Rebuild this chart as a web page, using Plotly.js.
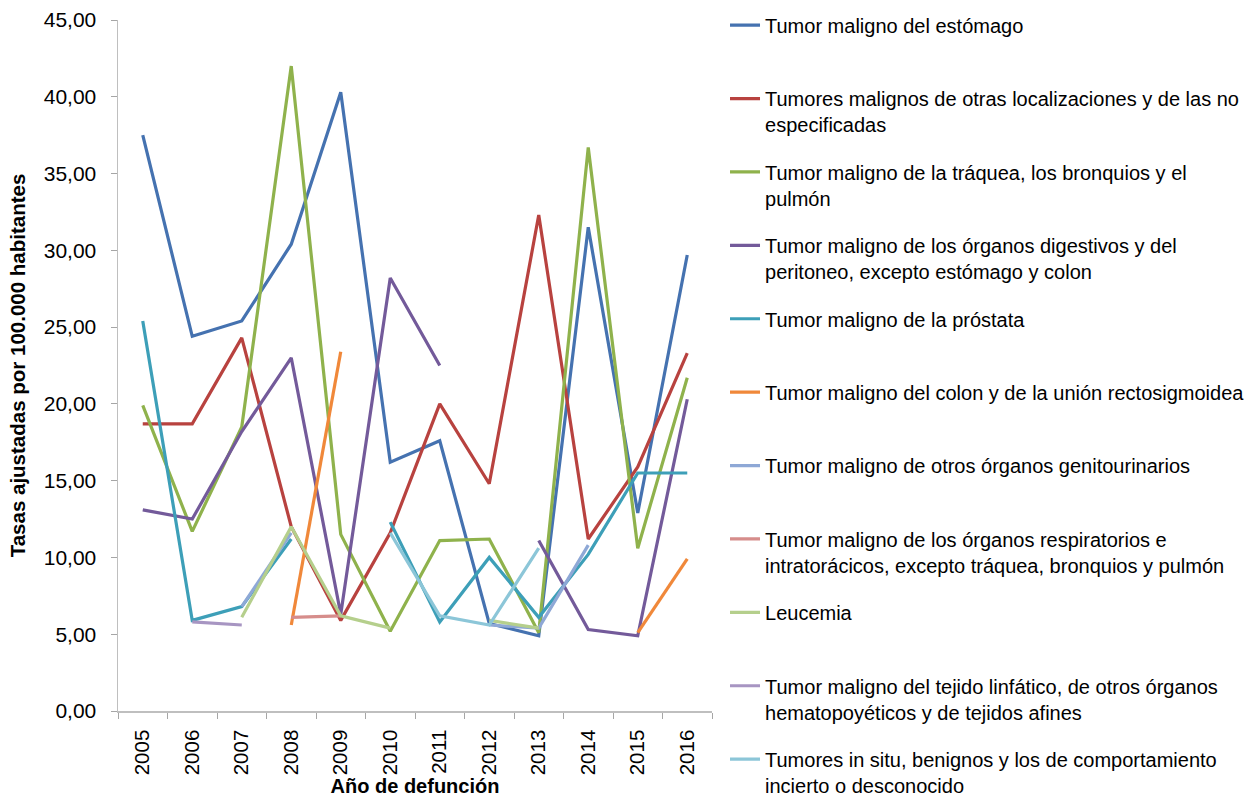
<!DOCTYPE html>
<html>
<head>
<meta charset="utf-8">
<script src="https://cdn.plot.ly/plotly-3.0.1.min.js"></script>
<style>html,body{margin:0;padding:0;background:#fff;}#chart{width:1251px;height:802px;}</style>
</head>
<body>
<div id="chart"></div>
<script>
var years = ['2005','2006','2007','2008','2009','2010','2011','2012','2013','2014','2015','2016'];

var seriesNames = [
  'Tumor maligno del estómago<br>&nbsp;',
  'Tumores malignos de otras localizaciones y de las no<br>especificadas',
  'Tumor maligno de la tráquea, los bronquios y el<br>pulmón',
  'Tumor maligno de los órganos digestivos y del<br>peritoneo, excepto estómago y colon',
  'Tumor maligno de la próstata<br>&nbsp;',
  'Tumor maligno del colon y de la unión rectosigmoidea<br>&nbsp;',
  'Tumor maligno de otros órganos genitourinarios<br>&nbsp;',
  'Tumor maligno de los órganos respiratorios e<br>intratorácicos, excepto tráquea, bronquios y pulmón',
  'Leucemia<br>&nbsp;',
  'Tumor maligno del tejido linfático, de otros órganos<br>hematopoyéticos y de tejidos afines',
  'Tumores in situ, benignos y los de comportamiento<br>incierto o desconocido'
];

var estomago      = [37.5, 24.4, 25.4, 30.4, 40.3, 16.2, 17.6, 5.7, 4.9, 31.5, 12.9, 29.7];
var otras         = [18.7, 18.7, 24.3, 12.0, 5.9, 11.6, 20.0, 14.8, 32.3, 11.2, 15.9, 23.3];
var traquea       = [19.9, 11.7, 18.5, 42.0, 11.5, 5.2, 11.1, 11.2, 5.1, 36.7, 10.6, 21.7];
var digestivos    = [13.1, 12.5, 18.2, 23.0, 6.3, 28.2, 22.5, null, 11.1, 5.3, 4.9, 20.3];
var prostata      = [25.4, 5.9, 6.8, 11.2, null, 12.3, 5.8, 10.0, 6.1, 10.2, 15.5, 15.5];
var colon         = [null, null, null, 5.6, 23.4, null, null, null, null, null, 5.1, 9.9];
var genitourinarios = [null, null, 6.8, 11.6, null, null, null, 5.6, 5.4, 10.8, null, null];
var respiratorios = [null, null, null, 6.1, 6.2, null, null, null, null, null, null, null];
var leucemia      = [null, null, 6.1, 12.0, 6.2, 5.4, null, 5.9, 5.4, null, null, null];
var linfatico     = [null, 5.8, 5.6, null, null, null, null, null, null, null, null, null];
var insitu        = [null, null, null, null, null, 11.6, 6.2, 5.6, 10.6, null, null, null];

var allSeries = [estomago, otras, traquea, digestivos, prostata, colon, genitourinarios, respiratorios, leucemia, linfatico, insitu];
var colors = ['#4572B0', '#B8423F', '#8FB24C', '#735A9A', '#3D9FB8', '#F0883A', '#8EA8D6', '#D68D8B', '#B5CF8C', '#A795C2', '#8CC6D8'];

var traces = allSeries.map(function(vals, i) {
  return {
    type: 'scatter',
    mode: 'lines',
    x: years,
    y: vals,
    name: seriesNames[i],
    legendgroup: 'g' + i,
    line: {color: colors[i], width: 3.2},
    connectgaps: false
  };
});

var layout = {
  width: 1251,
  height: 802,
  paper_bgcolor: '#ffffff',
  plot_bgcolor: '#ffffff',
  separators: ',.',
  margin: {l: 118, r: 539, t: 20, b: 91, autoexpand: false},
  font: {family: 'Liberation Sans, Arial, sans-serif', color: '#000000'},
  xaxis: {
    type: 'category',
    range: [-0.5, 11.5],
    autorange: false,
    tickangle: -90,
    tickson: 'boundaries',
    ticks: 'outside',
    ticklen: 6,
    tickcolor: '#a6a6a6',
    showline: true,
    linecolor: '#bfbfbf',
    linewidth: 1.5,
    showgrid: false,
    zeroline: false,
    ticklabelstandoff: 9,
    automargin: false,
    tickfont: {family: 'Liberation Sans, Arial, sans-serif', size: 20.5, color: '#000000'},
    title: {text: 'Año de defunción', font: {family: 'Liberation Sans, Arial, sans-serif', size: 20, weight: 'bold', color: '#000000'}, standoff: 3}
  },
  yaxis: {
    range: [0, 45],
    autorange: false,
    dtick: 5,
    tick0: 0,
    tickformat: '.2f',
    ticks: 'outside',
    ticklen: 6,
    tickcolor: '#a6a6a6',
    showline: true,
    linecolor: '#bfbfbf',
    linewidth: 1.5,
    showgrid: false,
    zeroline: false,
    ticklabelstandoff: 10,
    automargin: false,
    tickfont: {family: 'Liberation Sans, Arial, sans-serif', size: 21, color: '#000000'},
    title: {text: 'Tasas ajustadas por 100.000 habitantes', font: {family: 'Liberation Sans, Arial, sans-serif', size: 20.5, weight: 'bold', color: '#000000'}, standoff: 12}
  },
  legend: {
    x: 1.0219,
    xanchor: 'left',
    y: 1.0208,
    yanchor: 'top',
    valign: 'top',
    traceorder: 'grouped',
    tracegroupgap: 18.4,
    maxheight: 802,
    bgcolor: 'rgba(0,0,0,0)',
    font: {family: 'Liberation Sans, Arial, sans-serif', size: 20, color: '#000000'}
  },
  showlegend: true
};

Plotly.newPlot('chart', traces, layout, {displayModeBar: false, staticPlot: true});
</script>
</body>
</html>
